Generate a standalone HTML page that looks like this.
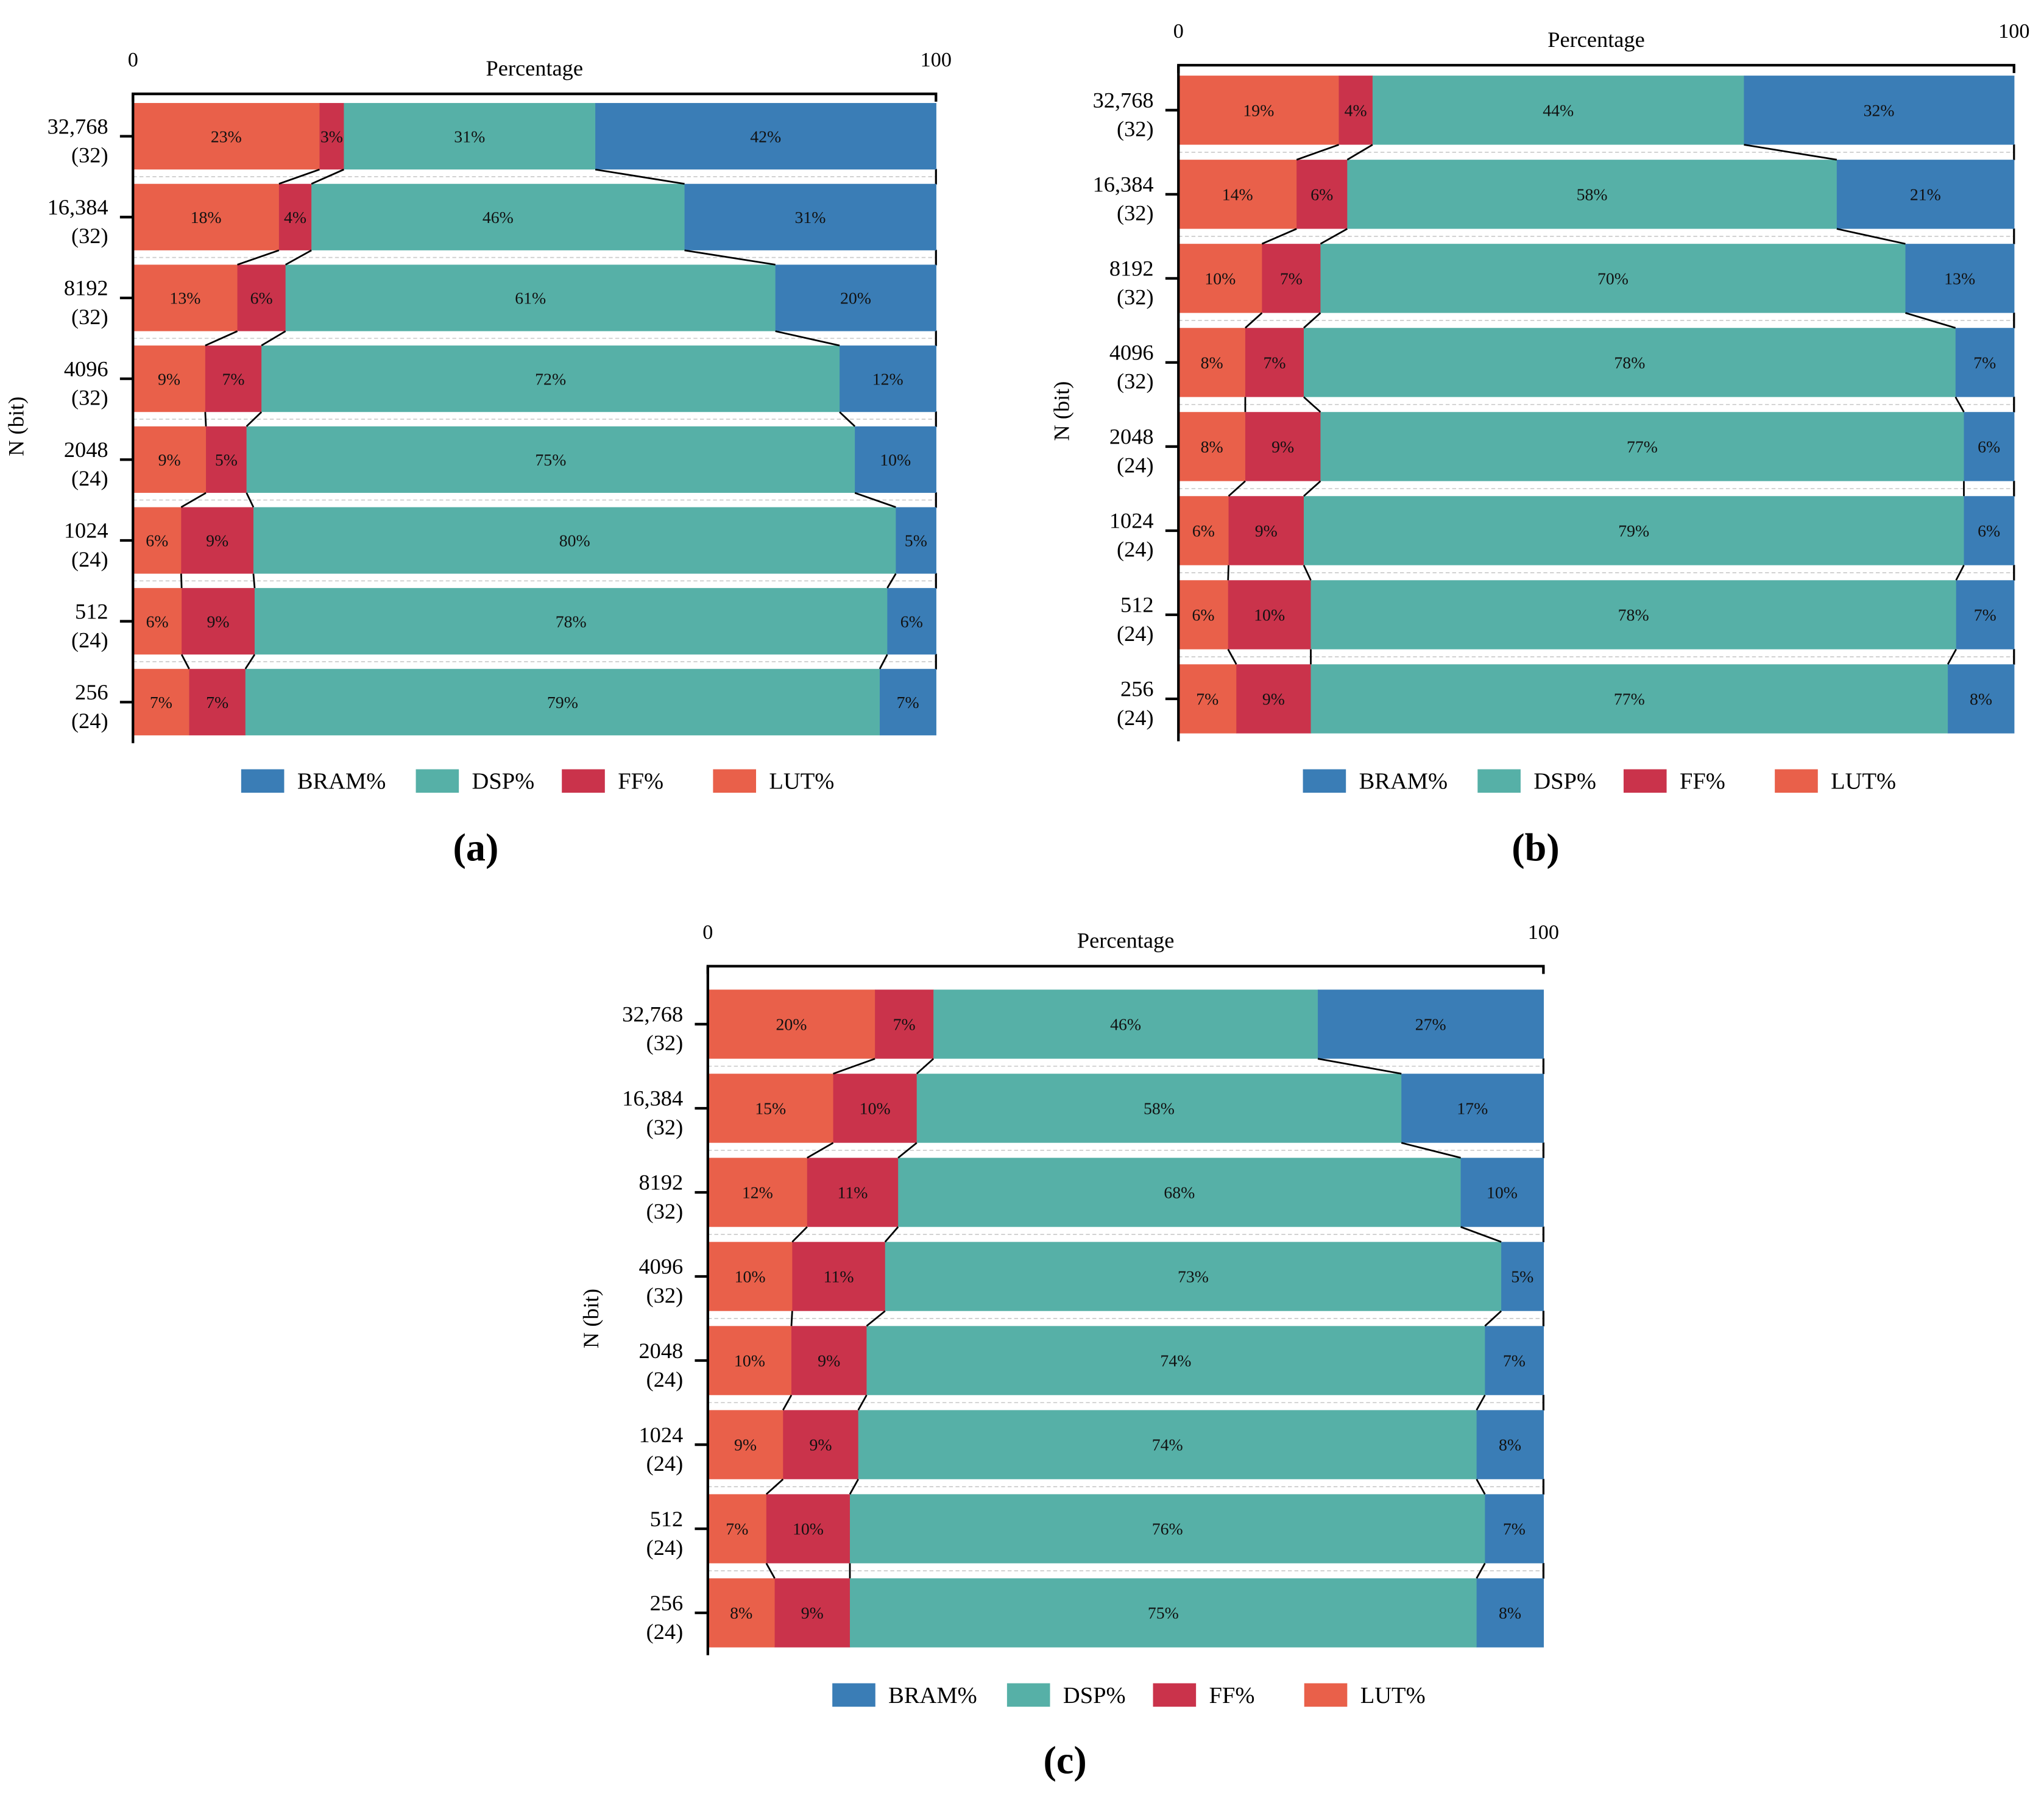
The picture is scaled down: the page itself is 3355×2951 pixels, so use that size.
<!DOCTYPE html>
<html><head><meta charset="utf-8"><style>
html,body{margin:0;padding:0;background:#fff}
svg{display:block;font-family:"Liberation Serif",serif}
</style></head><body>
<svg id="fig" width="3355" height="2951" viewBox="0 0 1568 1379" preserveAspectRatio="none" xmlns="http://www.w3.org/2000/svg" font-family="Liberation Serif, serif"></svg>
<script>
const categories = ["32,768","16,384","8192","4096","2048","1024","512","256"];
const bitWidths = ["(32)","(32)","(32)","(32)","(24)","(24)","(24)","(24)"];
const seriesNames = ["LUT%","FF%","DSP%","BRAM%"];
const aLUT = [23,18,13,9,9,6,6,7];
const aFF = [3,4,6,7,5,9,9,7];
const aDSP = [31,46,61,72,75,80,78,79];
const aBRAM = [42,31,20,12,10,5,6,7];
const bLUT = [19,14,10,8,8,6,6,7];
const bFF = [4,6,7,7,9,9,10,9];
const bDSP = [44,58,70,78,77,79,78,77];
const bBRAM = [32,21,13,7,6,6,7,8];
const cLUT = [20,15,12,10,10,9,7,8];
const cFF = [7,10,11,11,9,9,10,9];
const cDSP = [46,58,68,73,74,74,76,75];
const cBRAM = [27,17,10,5,7,8,7,8];
const colors = ["#E9604A","#CA334B","#56B0A7","#3A7DB6"];
const NS = "http://www.w3.org/2000/svg";
const svg = document.getElementById("fig");
function mk(tag, attrs, parent){const e=document.createElementNS(NS,tag);for(const k in attrs)e.setAttribute(k,attrs[k]);(parent||svg).appendChild(e);return e;}
function txt(s, attrs, parent){const t=mk("text",attrs,parent);t.textContent=s;return t;}

const panels = [
 {id:"a", x0:102, x1:718, axisY:72, top:79, pitch:62, h:51, legY:599, capX:365, capY:650, data:[aLUT,aFF,aDSP,aBRAM]},
 {id:"b", x0:904, x1:1545, axisY:50, top:58, pitch:64.5, h:53, legY:599, capX:1178, capY:650, data:[bLUT,bFF,bDSP,bBRAM]},
 {id:"c", x0:543, x1:1184, axisY:741, top:759, pitch:64.5, h:53, legY:1300, capX:817, capY:1350, data:[cLUT,cFF,cDSP,cBRAM]}
];

panels.forEach(p=>{
  const g = mk("g",{});
  
  
  const xs = v => p.x0 + (p.x1-p.x0)*v/100;
  const rowY = i => p.top + i*p.pitch;
  const n = categories.length;
  const bottom = rowY(n-1)+p.h+6;
  for(let i=0;i<n-1;i++){
    const gy = rowY(i)+p.h+(p.pitch-p.h)/2;
    const l = mk("line",{x1:p.x0,x2:p.x1,y1:gy,y2:gy,stroke:"#ccc","stroke-width":0.8,"stroke-dasharray":"3,2"},g);
    
    
    const rt = mk("line",{x1:p.x1,x2:p.x1,y1:gy-6,y2:gy+6,stroke:"#000","stroke-width":1.5},g);
    
    
  }
  const bounds = [];
  for(let i=0;i<n;i++){
    const vals = p.data.map(s=>s[i]);
    const sum = vals.reduce((a,b)=>a+b,0);
    let acc=0; const b=[];
    vals.forEach((v,k)=>{
      const a0 = acc/sum*100, a1=(acc+v)/sum*100; acc+=v;
      const r = mk("rect",{x:xs(a0),y:rowY(i),width:xs(a1)-xs(a0)+0.3,height:p.h,fill:colors[k]},g);
      
      
      const t = txt(v+"%",{x:(xs(a0)+xs(a1))/2,y:rowY(i)+p.h/2+4.5,"text-anchor":"middle","font-size":13,fill:"#111"},g);
      
      
      if(k<3) b.push(a1);
    });
    bounds.push(b);
  }
  for(let i=0;i<n-1;i++){
    for(let k=0;k<3;k++){
      const l = mk("line",{x1:xs(bounds[i][k]),y1:rowY(i)+p.h,x2:xs(bounds[i+1][k]),y2:rowY(i+1),stroke:"#000","stroke-width":1.3},g);
      
      
    }
  }
  const ax = mk("path",{d:`M${p.x0},${p.axisY+6}V${p.axisY}H${p.x1}V${p.axisY+6}`,fill:"none",stroke:"#000","stroke-width":2},g);
  
  
  const ya = mk("line",{x1:p.x0,x2:p.x0,y1:p.axisY,y2:bottom,stroke:"#000","stroke-width":2},g);
  
  
  const t0 = txt("0",{x:p.x0,y:p.axisY-21,"text-anchor":"middle","font-size":16},g);
  
  
  const t1 = txt("100",{x:p.x1,y:p.axisY-21,"text-anchor":"middle","font-size":16},g);
  
  
  const xt = txt("Percentage",{x:(p.x0+p.x1)/2,y:p.axisY-14,"text-anchor":"middle","font-size":17},g);
  
  
  for(let i=0;i<n;i++){
    const cy = rowY(i)+p.h/2;
    const tk = mk("line",{x1:p.x0-10,x2:p.x0,y1:cy,y2:cy,stroke:"#000","stroke-width":2},g);
    
    
    const l1 = txt(categories[i],{x:p.x0-19,y:cy-2,"text-anchor":"end","font-size":17},g);
    
    
    const l2 = txt(bitWidths[i],{x:p.x0-19,y:cy+20,"text-anchor":"end","font-size":17},g);
    
    
  }
  const midY = (p.axisY+bottom)/2;
  const yt = txt("N (bit)",{x:0,y:0,"text-anchor":"middle","font-size":17,"font-family":"Liberation Serif, serif",transform:`translate(${p.x0-84},${midY+6}) rotate(-90)`},g);
  
  
  const legOrder = [3,2,1,0];
  const cx = (p.x0+p.x1)/2;
  const widths = [134,112,116,90];
  let lx = cx - 225;
  legOrder.forEach((k,j)=>{
    const r = mk("rect",{x:lx,y:p.legY-9,width:33,height:18,fill:colors[k]},g);
    
    
    const t = txt(seriesNames[k],{x:lx+43,y:p.legY+6,"font-size":18},g);
    
    
    lx += widths[j];
  });
  const cap = txt("("+p.id+")",{x:p.capX,y:p.capY+10,"text-anchor":"middle","font-size":30,"font-weight":"bold","font-family":"Liberation Serif, serif"},g);
  
  
});
</script>
</body></html>
